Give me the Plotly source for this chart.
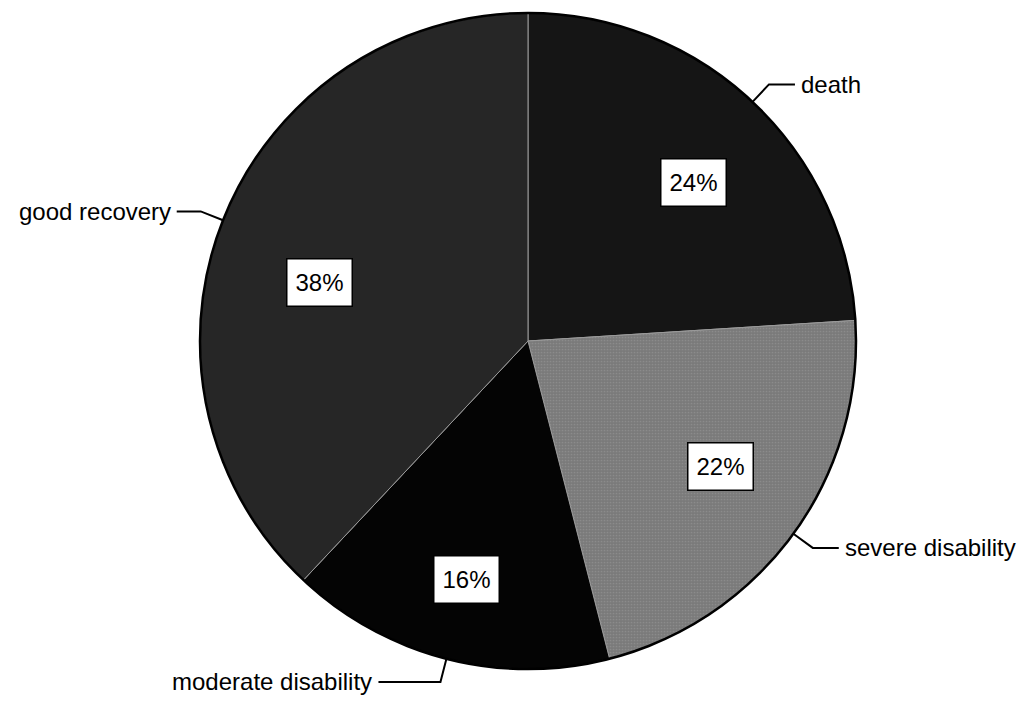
import math
import plotly.graph_objects as go

# Outcome distribution
categories = ["death", "severe disability", "moderate disability", "good recovery"]
shares = [24, 22, 16, 38]

# Greyscale fills, one per category, with a fine halftone on the mid grey
fills = ["#151515", "#7a7a7a", "#040404", "#262626"]
dots = ["", ".", "", ""]
dot_colors = ["#151515", "#9c9c9c", "#040404", "#262626"]

# Label placement tuning (fraction of radius, angular nudge in degrees)
label_frac = [0.70, 0.70, 0.75, 0.66]
label_turn = [3, -3, 0, -6]
leader_len = [26, 26, -62, -24]

W, H = 1025, 701
CX, CY, R = 528, 341, 328
FONT = "Liberation Sans, Arial, sans-serif"

fig = go.Figure()
fig.add_trace(go.Pie(
    labels=categories,
    values=shares,
    sort=False,
    direction="clockwise",
    rotation=0,
    textinfo="none",
    hoverinfo="label+percent",
    marker=dict(colors=fills, line=dict(color="#9a9a9a", width=1),
                pattern=dict(shape=dots, fgcolor=dot_colors, bgcolor=fills,
                             size=3, solidity=0.25, fillmode="overlay")),
    domain=dict(x=[(CX - R) / W, (CX + R) / W],
                y=[(H - CY - R) / H, (H - CY + R) / H]),
    showlegend=False,
))

# invisible cartesian frame in pixel units for the annotations
fig.add_trace(go.Scatter(x=[0, W], y=[0, H], mode="markers",
                         marker=dict(opacity=0), hoverinfo="skip",
                         showlegend=False))

shapes = [dict(type="circle", xref="x", yref="y",
               x0=CX - R, x1=CX + R, y0=CY - R, y1=CY + R,
               line=dict(color="#000000", width=2.5))]
annotations = []
total = sum(shares)
cum = 0
for i, (name, v) in enumerate(zip(categories, shares)):
    mid = (cum + v / 2) / total * 360.0
    cum += v
    a = math.radians(mid)
    # percentage box inside the slice
    b = math.radians(mid + label_turn[i])
    bx = CX + label_frac[i] * R * math.sin(b)
    by = CY - label_frac[i] * R * math.cos(b)
    annotations.append(dict(
        x=bx, y=by, xref="x", yref="y", showarrow=False,
        text=f"{round(v / total * 100)}%",
        font=dict(family=FONT, size=24, color="#000000"),
        width=50, height=32, align="center", valign="middle",
        bgcolor="#ffffff", bordercolor="#000000", borderwidth=1.5,
        borderpad=7))
    # leader line from the rim to the outer label
    x0 = CX + R * math.sin(a)
    y0 = CY - R * math.cos(a)
    x1 = CX + (R + 24) * math.sin(a)
    y1 = CY - (R + 24) * math.cos(a)
    x2 = x1 + leader_len[i]
    shapes.append(dict(type="path", xref="x", yref="y",
                       path=f"M {x0} {y0} L {x1} {y1} L {x2} {y1}",
                       line=dict(color="#000000", width=2)))
    right = leader_len[i] > 0
    annotations.append(dict(
        x=x2 + (4 if right else -4), y=y1, xref="x", yref="y",
        showarrow=False, text=name,
        xanchor="left" if right else "right", yanchor="middle",
        font=dict(family=FONT, size=24, color="#000000")))

fig.update_layout(
    width=W, height=H,
    margin=dict(l=0, r=0, t=0, b=0),
    paper_bgcolor="#ffffff", plot_bgcolor="rgba(0,0,0,0)",
    xaxis=dict(range=[0, W], visible=False, fixedrange=True),
    yaxis=dict(range=[H, 0], visible=False, fixedrange=True),
    shapes=shapes, annotations=annotations,
)

fig.write_html("out.html")
